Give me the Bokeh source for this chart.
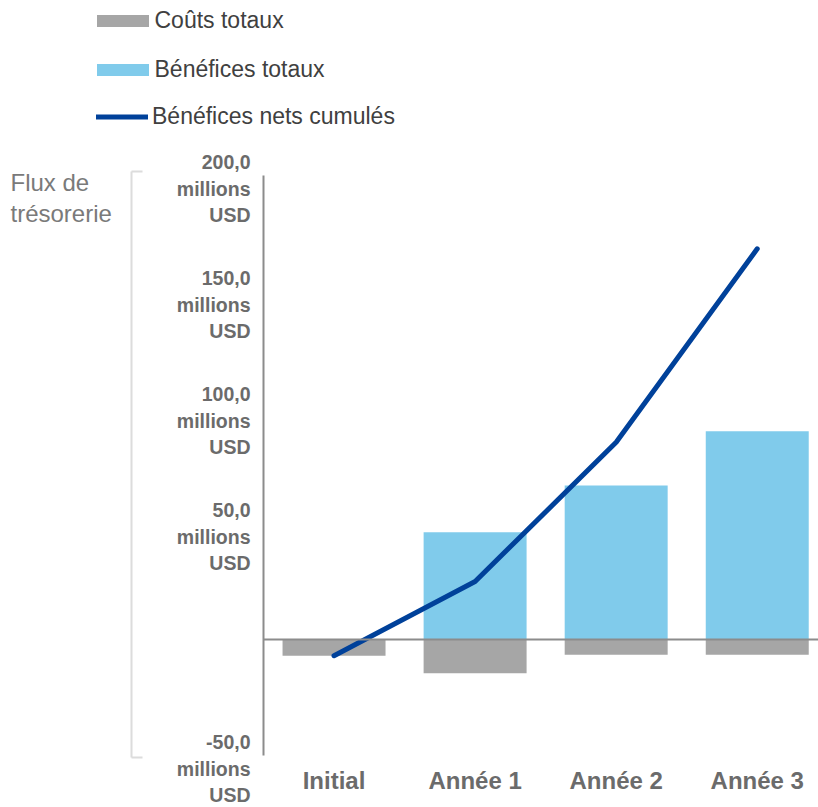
from bokeh.plotting import figure
from bokeh.models import (Range1d, FixedTicker, LinearAxis, Legend, LegendItem,
                          Label, Arrow)
from bokeh.embed import file_html
from bokeh.resources import INLINE

# Cash flow per period, in millions USD
periods = ["Initial", "Année 1", "Année 2", "Année 3"]
total_costs = [-7.0, -14.5, -6.6, -6.6]
total_benefits = [0.0, 46.2, 66.4, 89.8]
cumulative_net = [-7.0, 25.0, 85.0, 168.4]

y_tick_values = [-50, 50, 100, 150, 200]
y_tick_labels = ["-50,0", "50,0", "100,0", "150,0", "200,0"]

FONT = "Liberation Sans"
GRAY_BAR = "#a6a6a6"
BLUE_BAR = "#80cbeb"
NAVY = "#00419a"
AXIS_GRAY = "#8c8c8c"
LABEL_GRAY = "#6b6b6b"

W, H = 818, 807
# The plotting area fills the whole canvas; axes sit at fixed data positions.
PX_PER_PERIOD = 141.07
PX_PER_UNIT = 2.32
x_lo = -0.5 - 263 / PX_PER_PERIOD
x_hi = x_lo + W / PX_PER_PERIOD
y_hi = 639 / PX_PER_UNIT

x_pos = list(range(len(periods)))

p = figure(width=W, height=H, output_backend="svg", toolbar_location=None,
           x_range=Range1d(x_lo, x_hi),
           y_range=Range1d(y_hi - H / PX_PER_UNIT, y_hi),
           x_axis_location=None, y_axis_location=None,
           min_border=0)
p.outline_line_color = None
p.xgrid.visible = False
p.ygrid.visible = False
p.background_fill_color = "white"
p.border_fill_color = "white"

cost_r = p.vbar(x=x_pos, top=0, bottom=total_costs, width=0.73,
                fill_color=GRAY_BAR, line_color=None)
benefit_r = p.vbar(x=x_pos, top=total_benefits, bottom=0, width=0.73,
                   fill_color=BLUE_BAR, line_color=None)

# Zero baseline running from the value axis to the right edge (line only)
zero_axis = LinearAxis(fixed_location=0, bounds=(-0.5, x_hi),
                       ticker=FixedTicker(ticks=[]),
                       axis_line_color=AXIS_GRAY, axis_line_width=2,
                       major_tick_line_color=None, minor_tick_line_color=None)
p.add_layout(zero_axis, "below")

net_r = p.line(x=x_pos, y=cumulative_net, line_color=NAVY, line_width=5,
               line_cap="round", line_join="round")

# Period names under the plot
period_axis = LinearAxis(fixed_location=-50, ticker=FixedTicker(ticks=x_pos),
                         major_label_overrides={i: n for i, n in enumerate(periods)},
                         axis_line_color=None, major_tick_line_color=None,
                         minor_tick_line_color=None, major_label_standoff=5,
                         major_label_text_font=FONT,
                         major_label_text_font_style="bold",
                         major_label_text_font_size="24px",
                         major_label_text_color=LABEL_GRAY)
p.add_layout(period_axis, "below")

# Value axis with unit on separate lines
value_axis = LinearAxis(fixed_location=-0.5, bounds=(-50, 200),
                        ticker=FixedTicker(ticks=y_tick_values),
                        major_label_overrides={v: "\n" + t + "\nmillions\nUSD"
                                               for v, t in zip(y_tick_values, y_tick_labels)},
                        axis_line_color=AXIS_GRAY, axis_line_width=2,
                        major_tick_line_color=None, minor_tick_line_color=None,
                        major_label_standoff=7,
                        major_label_text_font=FONT,
                        major_label_text_font_style="bold",
                        major_label_text_font_size="19.5px",
                        major_label_text_color=LABEL_GRAY,
                        major_label_text_line_height=1.2)
p.add_layout(value_axis, "left")

# Axis title and its bracket
p.add_layout(Label(x=10, y=H - 168, x_units="screen", y_units="screen",
                   text="Flux de\ntrésorerie", text_font=FONT,
                   text_font_size="24px", text_color="#7a7a7a",
                   text_align="left", text_baseline="top",
                   text_line_height=1.15))
bracket = dict(line_color="#dcdcdc", line_width=2, end=None,
               start_units="screen", end_units="screen")
p.add_layout(Arrow(x_start=131, y_start=H - 171, x_end=131, y_end=H - 757, **bracket))
p.add_layout(Arrow(x_start=131, y_start=H - 171, x_end=142, y_end=H - 171, **bracket))
p.add_layout(Arrow(x_start=131, y_start=H - 757, x_end=142, y_end=H - 757, **bracket))

legend_style = dict(label_text_font=FONT, label_text_font_size="23px",
                    label_text_color="#404040", label_height=26,
                    background_fill_alpha=0, border_line_color=None,
                    padding=0, margin=0)

bar_legend = Legend(items=[LegendItem(label="Coûts totaux", renderers=[cost_r]),
                           LegendItem(label="Bénéfices totaux", renderers=[benefit_r])],
                    location=(89.5, H - 83), glyph_width=65, glyph_height=15,
                    label_standoff=0, spacing=22, **legend_style)
line_legend = Legend(items=[LegendItem(label="Bénéfices nets cumulés", renderers=[net_r])],
                     location=(96, H - 130), glyph_width=52, glyph_height=15,
                     label_standoff=4, **legend_style)
p.add_layout(bar_legend)
p.add_layout(line_legend)

open("out.html", "w").write(file_html(p, INLINE))
